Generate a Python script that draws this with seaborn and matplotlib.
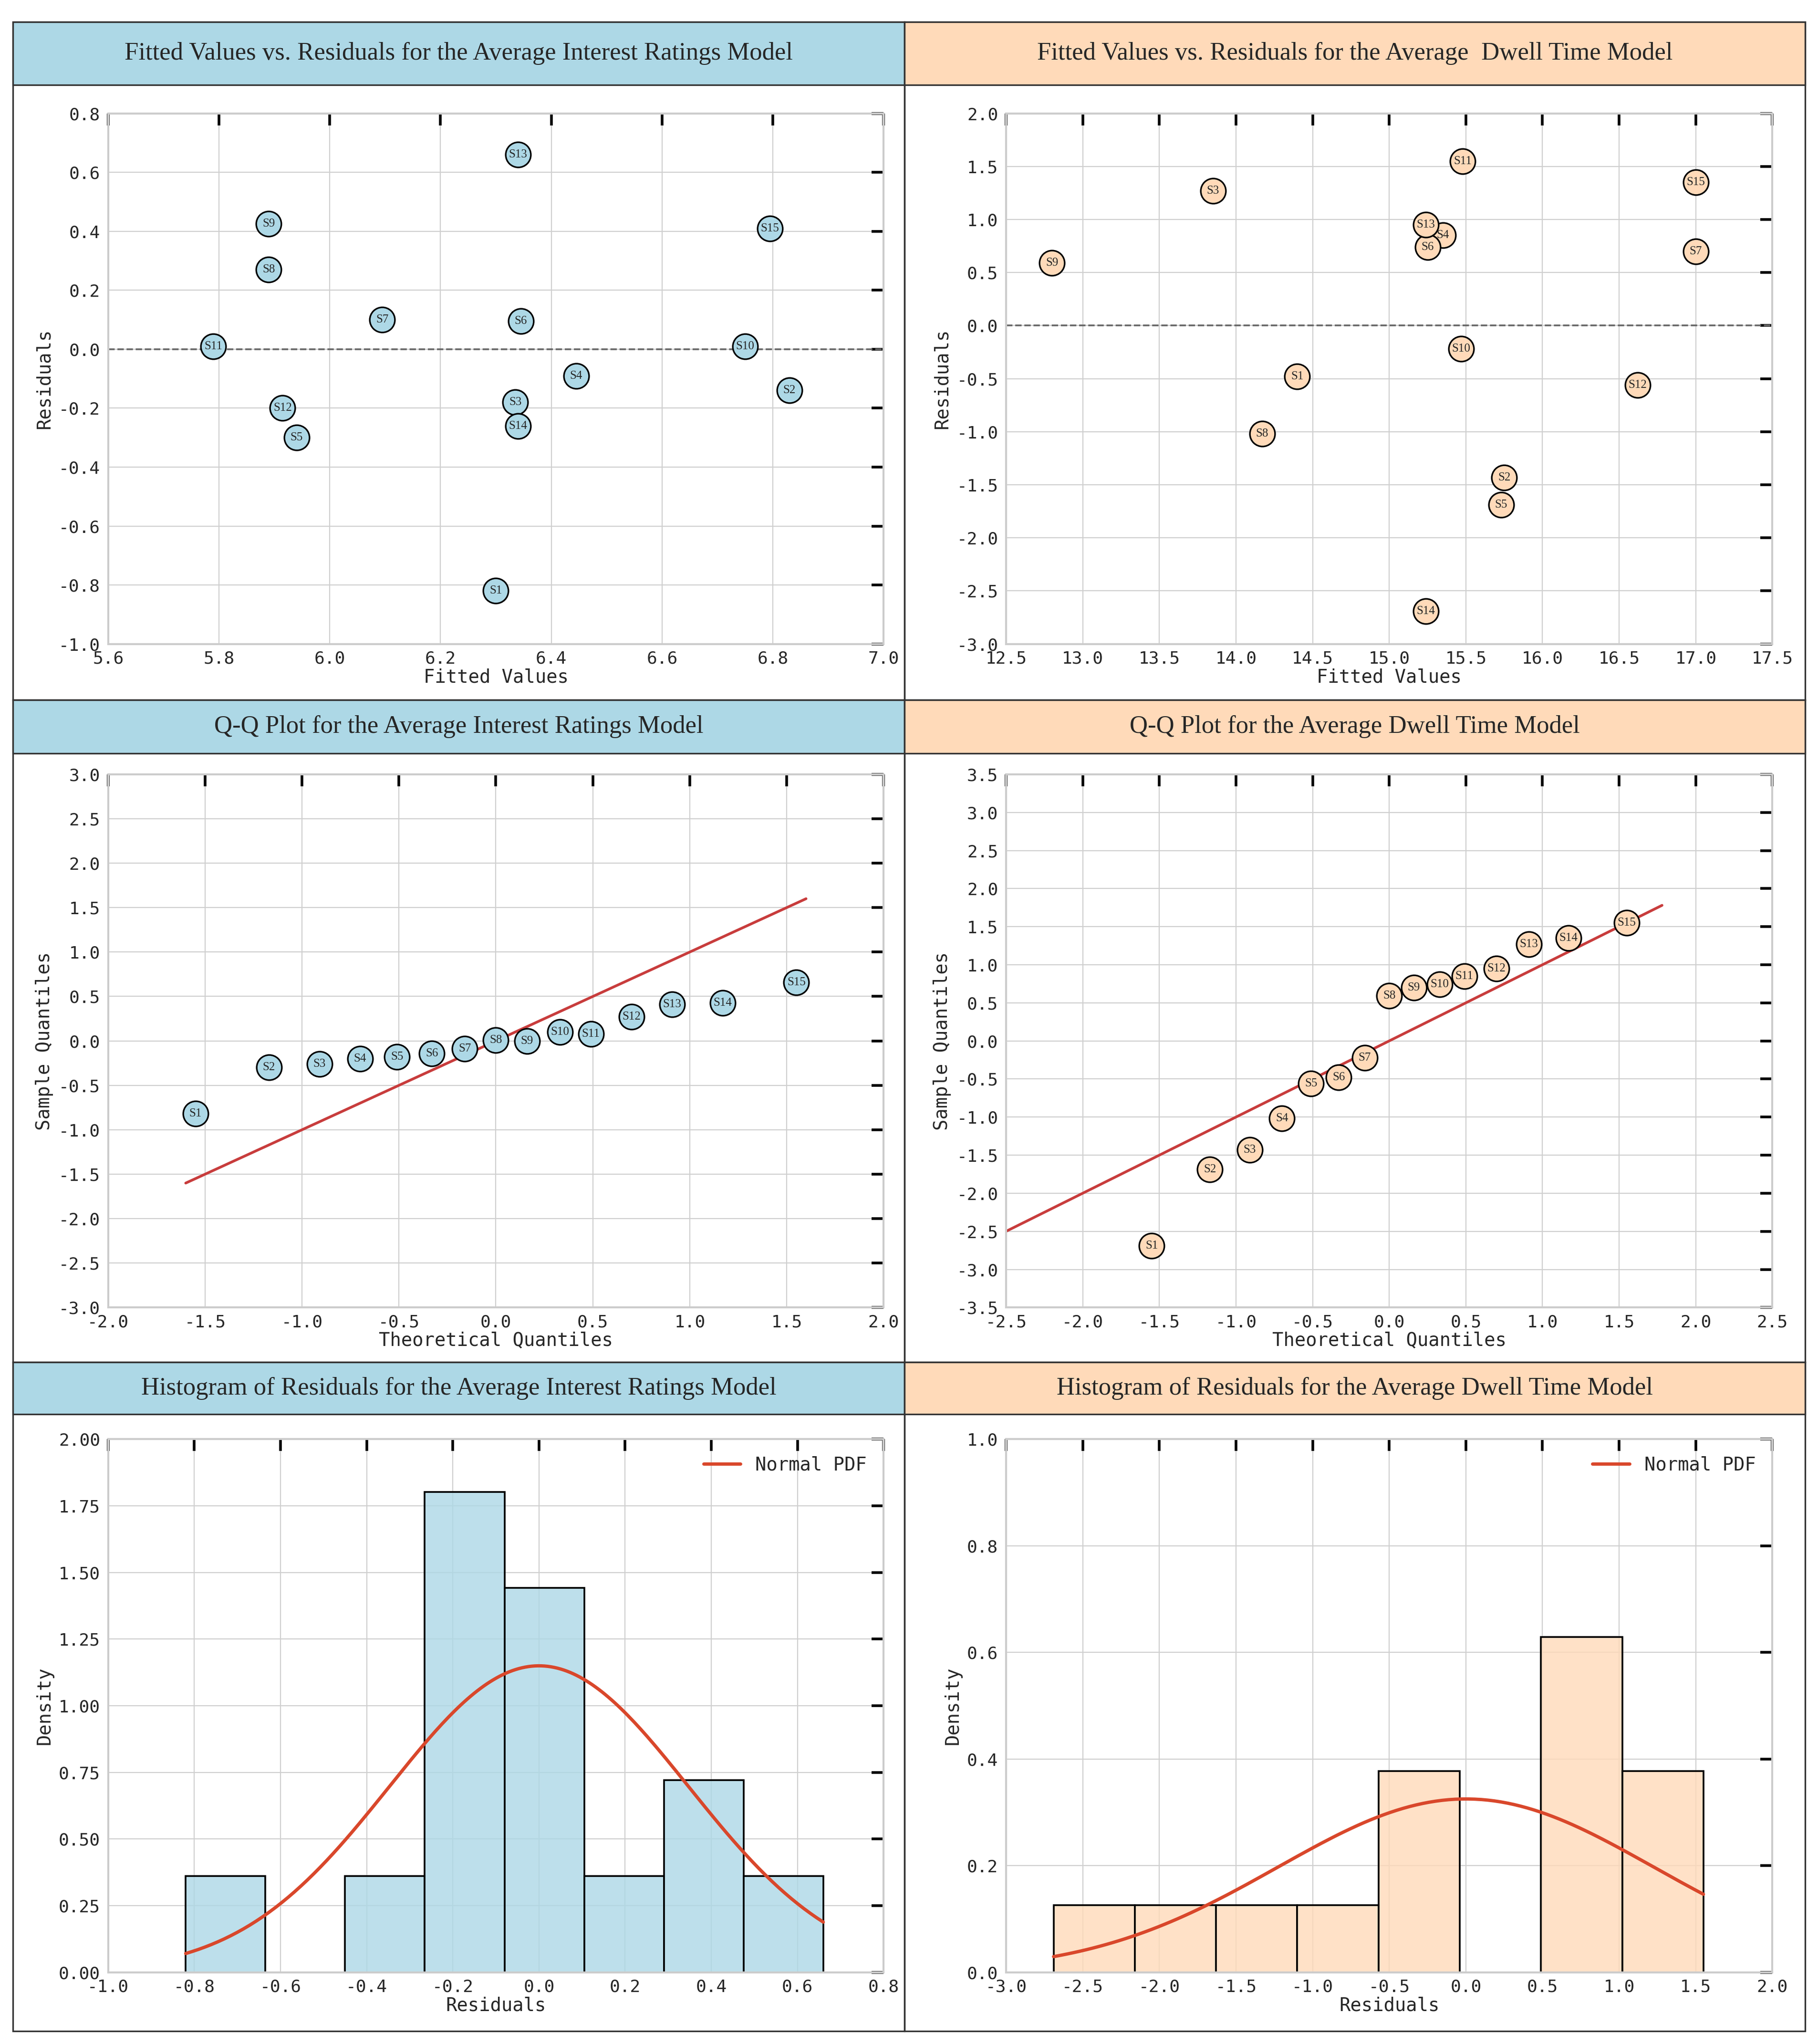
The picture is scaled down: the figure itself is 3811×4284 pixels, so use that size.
import numpy as np
import pandas as pd
import seaborn as sns
import matplotlib.pyplot as plt
from matplotlib.patches import Rectangle

# --- dati ---
labels = [f"S{i}" for i in range(1, 16)]

int_fitted = [6.30, 6.83, 6.335, 6.445, 5.94, 6.345, 6.095, 5.89, 5.89, 6.75, 5.79, 5.915, 6.34, 6.34, 6.795]
int_resid = [-0.82, -0.14, -0.18, -0.09, -0.30, 0.095, 0.10, 0.27, 0.425, 0.01, 0.01, -0.20, 0.66, -0.26, 0.41]

dw_fitted = [14.40, 15.75, 13.85, 15.35, 15.73, 15.25, 17.00, 14.17, 12.80, 15.47, 15.48, 16.62, 15.24, 15.24, 17.00]
dw_resid = [-0.48, -1.43, 1.27, 0.85, -1.69, 0.74, 0.70, -1.02, 0.59, -0.22, 1.55, -0.56, 0.95, -2.69, 1.35]

theo_q = [-1.55, -1.17, -0.91, -0.70, -0.51, -0.33, -0.16, 0.0, 0.16, 0.33, 0.49, 0.70, 0.91, 1.17, 1.55]
int_sample_q = [-0.82, -0.30, -0.26, -0.20, -0.18, -0.14, -0.09, 0.01, 0.0, 0.10, 0.08, 0.27, 0.41, 0.425, 0.66]
dw_sample_q = [-2.69, -1.69, -1.43, -1.02, -0.56, -0.48, -0.22, 0.59, 0.70, 0.74, 0.85, 0.95, 1.27, 1.35, 1.55]

int_line = [-1.6, 1.6]
dw_line = [-2.5, 1.78]

int_sd = 0.347
dw_sd = 1.227

BLU = "#ADD8E6"
PESCA = "#FFDAB9"
ROSSO = "#D9472B"

sns.set_style("whitegrid", {"grid.color": "#cfcfcf"})
plt.rcParams["font.family"] = "DejaVu Sans Mono"
plt.rcParams["axes.unicode_minus"] = False

W, H = 1395, 1568
fig = plt.figure(figsize=(3811 / 200, 4284 / 200), dpi=200)


def fx(x):
    return x / W


def fy(y):
    return 1 - y / H


# cornici e intestazioni
titoli = [
    ("Fitted Values vs. Residuals for the Average Interest Ratings Model", "Fitted Values vs. Residuals for the Average  Dwell Time Model"),
    ("Q-Q Plot for the Average Interest Ratings Model", "Q-Q Plot for the Average Dwell Time Model"),
    ("Histogram of Residuals for the Average Interest Ratings Model", "Histogram of Residuals for the Average Dwell Time Model"),
]
righe = [(17, 65), (537, 578), (1045, 1085)]
fondo = [537, 1045, 1558]
for r, (y0, y1) in enumerate(righe):
    for c, (x0, x1, col) in enumerate([(10, 694, BLU), (694, 1385, PESCA)]):
        fig.add_artist(Rectangle((fx(x0), fy(fondo[r])), fx(x1 - x0), (fondo[r] - y0) / H,
                                 transform=fig.transFigure, fill=False, lw=1.2, ec="#333333"))
        fig.add_artist(Rectangle((fx(x0), fy(y1)), fx(x1 - x0), (y1 - y0) / H,
                                 transform=fig.transFigure, fc=col, ec="#333333", lw=1.2))
        fig.text(fx((x0 + x1) / 2), fy((y0 + y1) / 2), titoli[r][c], ha="center", va="center",
                 fontsize=19, family="Liberation Serif")

assi_y = [(87, 494), (594, 1003), (1104, 1513)]
assi_x = [(83, 678), (772, 1360)]
axes = {}
for r, (ya, yb) in enumerate(assi_y):
    for c, (xa, xb) in enumerate(assi_x):
        axes[r, c] = fig.add_axes([fx(xa), fy(yb), fx(xb - xa), (yb - ya) / H])


def stile(ax, xlabel, ylabel):
    ax.set_xlabel(xlabel, fontsize=14, labelpad=1)
    ax.set_ylabel(ylabel, fontsize=14, labelpad=4)
    ax.tick_params(axis="both", labelsize=13, length=0)
    ax.tick_params(axis="x", pad=5)
    ax.tick_params(axis="y", pad=6)
    ax.tick_params(top=True, right=True, direction="in", length=9, width=2, color="black")
    ax.tick_params(bottom=False, left=False)
    for s in ax.spines.values():
        s.set_color("#cccccc")
        s.set_linewidth(1.5)


def tacche(ax, xt, yt, fmtx="{:.1f}", fmty="{:.1f}"):
    ax.set_xticks(xt)
    ax.set_yticks(yt)
    ax.set_xticklabels([fmtx.format(v + 0.0) for v in np.round(xt, 2)])
    ax.set_yticklabels([fmty.format(v + 0.0) for v in np.round(yt, 2)])


def punti(ax, x, y, col, fs):
    sns.scatterplot(x=x, y=y, ax=ax, s=360, color=col, edgecolor="black", linewidth=1.2, zorder=3)
    for lab, xi, yi in zip(labels, x, y):
        ax.text(xi, yi, lab, ha="center", va="center", fontsize=fs, family="Liberation Serif", zorder=4)


# riga 1: residui vs fitted
ax = axes[0, 0]
punti(ax, int_fitted, int_resid, BLU, 9)
ax.axhline(0, color="#666666", ls="--", lw=1.3)
ax.set_xlim(5.6, 7.0)
ax.set_ylim(-1.0, 0.8)
tacche(ax, np.arange(5.6, 7.01, 0.2), np.arange(-1.0, 0.81, 0.2))
stile(ax, "Fitted Values", "Residuals")

ax = axes[0, 1]
punti(ax, dw_fitted, dw_resid, PESCA, 9)
ax.axhline(0, color="#666666", ls="--", lw=1.3)
ax.set_xlim(12.5, 17.5)
ax.set_ylim(-3.0, 2.0)
tacche(ax, np.arange(12.5, 17.51, 0.5), np.arange(-3.0, 2.01, 0.5))
stile(ax, "Fitted Values", "Residuals")

# riga 2: Q-Q
ax = axes[1, 0]
sns.lineplot(x=int_line, y=int_line, ax=ax, color="#C83C3C", lw=2)
punti(ax, theo_q, int_sample_q, BLU, 9)
ax.set_xlim(-2.0, 2.0)
ax.set_ylim(-3.0, 3.0)
tacche(ax, np.arange(-2.0, 2.01, 0.5), np.arange(-3.0, 3.01, 0.5))
stile(ax, "Theoretical Quantiles", "Sample Quantiles")

ax = axes[1, 1]
sns.lineplot(x=dw_line, y=dw_line, ax=ax, color="#C83C3C", lw=2)
punti(ax, theo_q, dw_sample_q, PESCA, 9)
ax.set_xlim(-2.5, 2.5)
ax.set_ylim(-3.5, 3.5)
tacche(ax, np.arange(-2.5, 2.51, 0.5), np.arange(-3.5, 3.51, 0.5))
stile(ax, "Theoretical Quantiles", "Sample Quantiles")


# riga 3: istogrammi
def istogramma(ax, res, sd, col):
    sns.histplot(x=res, bins=8, stat="density", ax=ax, color=col, alpha=0.8,
                 edgecolor="black", linewidth=1.3)
    xs = np.linspace(min(res), max(res), 200)
    pdf = np.exp(-0.5 * (xs / sd) ** 2) / (sd * np.sqrt(2 * np.pi))
    ax.plot(xs, pdf, color=ROSSO, lw=2.5, label="Normal PDF")
    ax.legend(loc="upper right", frameon=False, prop={"size": 14})


ax = axes[2, 0]
istogramma(ax, int_resid, int_sd, BLU)
ax.set_xlim(-1.0, 0.8)
ax.set_ylim(0, 2.0)
tacche(ax, np.arange(-1.0, 0.81, 0.2), np.arange(0, 2.01, 0.25), fmty="{:.2f}")
stile(ax, "Residuals", "Density")

ax = axes[2, 1]
istogramma(ax, dw_resid, dw_sd, PESCA)
ax.set_xlim(-3.0, 2.0)
ax.set_ylim(0, 1.0)
tacche(ax, np.arange(-3.0, 2.01, 0.5), np.arange(0, 1.01, 0.2))
stile(ax, "Residuals", "Density")

fig.savefig("out.png", dpi=200)
